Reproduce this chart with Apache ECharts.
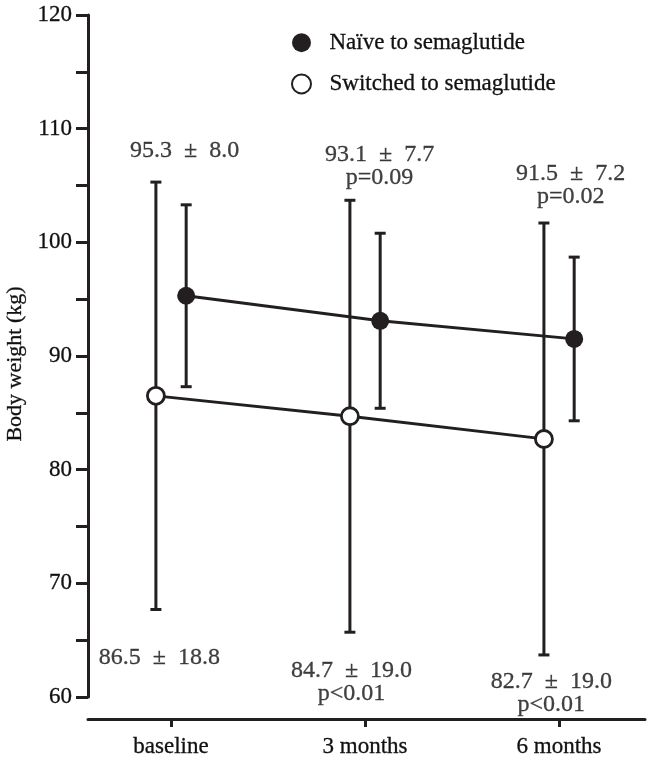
<!DOCTYPE html>
<html>
<head>
<meta charset="utf-8">
<script src="https://cdn.jsdelivr.net/npm/echarts@6/dist/echarts.min.js"></script>
<style>html,body{margin:0;padding:0;background:#fff}#c{width:650px;height:759px}</style>
</head>
<body>
<div id="c"></div>
<script>
// ---- data ----
var categories = ['baseline', '3 months', '6 months'];
var naiveMean = [95.3, 93.1, 91.5];
var naiveSD = [8.0, 7.7, 7.2];
var switchedMean = [86.5, 84.7, 82.7];
var switchedSD = [18.8, 19.0, 19.0];
var naivePvals = ['', 'p=0.09', 'p=0.02'];
var switchedPvals = ['', 'p<0.01', 'p<0.01'];
var seriesNames = ['Naïve to semaglutide', 'Switched to semaglutide'];
var yTicks = [60, 70, 80, 90, 100, 110, 120];

// ---- layout (not data) ----
var INK = '#231f20';
var TEXTINK = '#111';
var FONT = 'Liberation Serif';
var OFF = 0.078; // horizontal dodge of the two groups (axis units)
// label anchors [dx from category, y in axis units]
var naiveLabelPos = [[0.07, 108.1], [0.075, 106.7], [0.06, 105.0]];
var switchedLabelPos = [[-0.06, 63.5], [-0.07, 61.3], [-0.04, 60.3]];
var TXT = { textBorderColor: TEXTINK, textBorderWidth: 0.3 };

function catX(i) { return i + 1; }

var naiveLine = naiveMean.map(function (m, i) { return [catX(i) + OFF, m]; });
var switchedLine = switchedMean.map(function (m, i) { return [catX(i) - OFF, m]; });
var naiveErr = naiveMean.map(function (m, i) { return [catX(i) + OFF, m - naiveSD[i], m + naiveSD[i]]; });
var switchedErr = switchedMean.map(function (m, i) { return [catX(i) - OFF, m - switchedSD[i], m + switchedSD[i]]; });

function fmt(m, s, p) {
  var t = m.toFixed(1) + '\u2002\u00B1\u2002' + s.toFixed(1);
  return p ? t + '\n' + p : t;
}
var labelData = [];
naiveMean.forEach(function (m, i) {
  labelData.push({ value: [catX(i) + naiveLabelPos[i][0], naiveLabelPos[i][1]], text: fmt(m, naiveSD[i], naivePvals[i]) });
});
switchedMean.forEach(function (m, i) {
  labelData.push({ value: [catX(i) + switchedLabelPos[i][0], switchedLabelPos[i][1]], text: fmt(m, switchedSD[i], switchedPvals[i]) });
});

function errRender(params, api) {
  var x = api.value(0);
  var lo = api.coord([x, api.value(1)]);
  var hi = api.coord([x, api.value(2)]);
  var cap = 5.5;
  var st = { stroke: INK, lineWidth: 3 };
  return {
    type: 'group',
    children: [
      { type: 'line', shape: { x1: lo[0], y1: lo[1], x2: hi[0], y2: hi[1] }, style: st },
      { type: 'line', shape: { x1: hi[0] - cap, y1: hi[1], x2: hi[0] + cap, y2: hi[1] }, style: st },
      { type: 'line', shape: { x1: lo[0] - cap, y1: lo[1], x2: lo[0] + cap, y2: lo[1] }, style: st }
    ]
  };
}

var chart = echarts.init(document.getElementById('c'), null, { renderer: 'canvas' });
chart.setOption({
  backgroundColor: '#fff',
  animation: false,
  textStyle: { fontFamily: FONT, color: TEXTINK },
  grid: { left: 88, right: 5, top: 15, bottom: 62, containLabel: false, outerBoundsMode: 'none' },
  legend: {
    orient: 'vertical',
    left: 286,
    top: 26,
    itemWidth: 46,
    itemHeight: 19,
    itemGap: 18,
    data: [{ name: seriesNames[0], icon: 'circle' }, { name: seriesNames[1], icon: 'circle' }],
    textStyle: Object.assign({ fontFamily: FONT, fontSize: 23, color: TEXTINK, lineHeight: 19 }, TXT)
  },
  xAxis: {
    type: 'value',
    min: 0.572,
    max: 3.443,
    offset: 22,
    splitLine: { show: false },
    axisLine: { show: true, lineStyle: { color: INK, width: 3 } },
    axisTick: { show: true, length: 8, lineStyle: { color: INK, width: 3 }, customValues: [1, 2, 3] },
    axisLabel: Object.assign({
      show: true, margin: 16, fontFamily: FONT, fontSize: 23, color: TEXTINK,
      customValues: [1, 2, 3],
      formatter: function (v) { var i = Math.round(v) - 1; return categories[i] || ''; }
    }, TXT)
  },
  yAxis: {
    type: 'value',
    min: 60,
    max: 120,
    interval: 5,
    name: 'Body weight (kg)',
    nameLocation: 'middle',
    nameGap: 62,
    nameTextStyle: Object.assign({ fontFamily: FONT, fontSize: 22, color: TEXTINK, padding: [0, 0, 0, -16] }, TXT),
    splitLine: { show: false },
    axisLine: { show: true, lineStyle: { color: INK, width: 3 } },
    axisTick: { show: true, length: 12, lineStyle: { color: INK, width: 3 } },
    axisLabel: Object.assign({
      margin: 16, fontFamily: FONT, fontSize: 23, color: TEXTINK,
      formatter: function (v) { return yTicks.indexOf(v) >= 0 ? String(v) : ''; }
    }, TXT)
  },
  series: [
    { type: 'custom', name: 'errN', renderItem: errRender, data: naiveErr, z: 1, silent: true },
    { type: 'custom', name: 'errS', renderItem: errRender, data: switchedErr, z: 1, silent: true },
    {
      type: 'line', name: seriesNames[0], data: naiveLine, z: 5,
      symbol: 'circle', symbolSize: 18,
      lineStyle: { color: INK, width: 2.8 },
      itemStyle: { color: INK, borderColor: INK, borderWidth: 0 }
    },
    {
      type: 'line', name: seriesNames[1], data: switchedLine, z: 5,
      symbol: 'circle', symbolSize: 17,
      lineStyle: { color: INK, width: 2.8 },
      itemStyle: { color: '#fff', borderColor: INK, borderWidth: 2.8 }
    },
    {
      type: 'scatter', name: 'labels', data: labelData, symbolSize: 0, z: 6, silent: true, clip: false,
      label: Object.assign({
        show: true, position: 'inside', fontFamily: FONT, fontSize: 24, color: TEXTINK, lineHeight: 23, align: 'center',
        formatter: function (p) { return p.data.text; }
      }, TXT)
    }
  ]
});
</script>
</body>
</html>
